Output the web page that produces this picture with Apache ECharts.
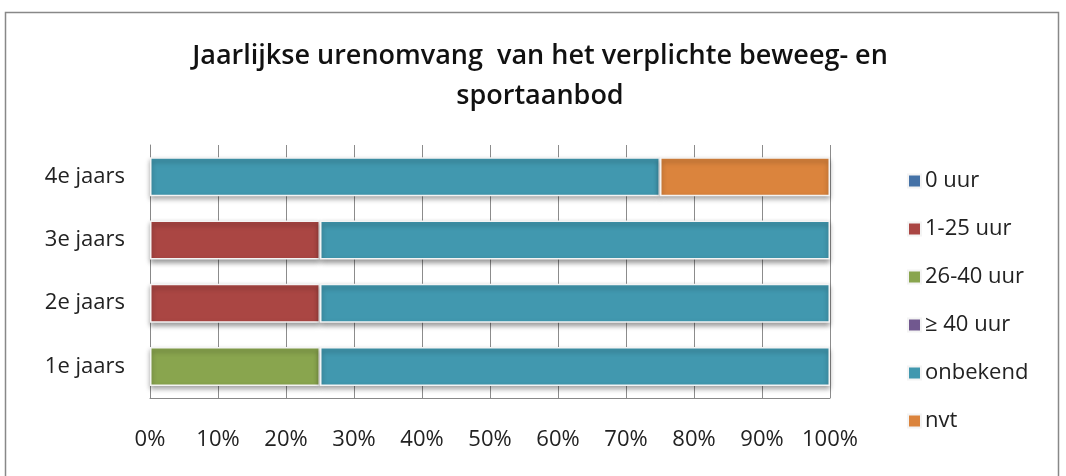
<!DOCTYPE html>
<html>
<head>
<meta charset="utf-8">
<script src="https://cdn.jsdelivr.net/npm/echarts@6/dist/echarts.min.js"></script>
<style>
  html, body { margin: 0; padding: 0; background: #fff; }
  #chart { width: 1066px; height: 476px; }
</style>
</head>
<body>
<div id="chart"></div>
<script>
    // categories bottom to top, like the Excel chart
    var categories = ['1e jaars', '2e jaars', '3e jaars', '4e jaars'];
    var seriesNames = ['0 uur', '1-25 uur', '26-40 uur', '≥ 40 uur', 'onbekend', 'nvt'];
    var colors = ['#4572A7', '#AA4643', '#89A54E', '#71588F', '#4198AF', '#DB843D'];

    // share per category (%)
    var uur0 = [0, 0, 0, 0];
    var uur1_25 = [0, 25, 25, 0];
    var uur26_40 = [25, 0, 0, 0];
    var uur40 = [0, 0, 0, 0];
    var onbekend = [75, 75, 75, 75];
    var nvt = [0, 0, 0, 25];
    var tickLabels = ['0%', '10%', '20%', '30%', '40%', '50%', '60%', '70%', '80%', '90%', '100%'];

    var values = [uur0, uur1_25, uur26_40, uur40, onbekend, nvt];
    var font = 'Open Sans';

    var chartDom = document.getElementById('chart');
    var myChart = echarts.init(chartDom);

    var series = seriesNames.map(function (name, i) {
        return {
            name: name,
            type: 'bar',
            stack: 'total',
            barWidth: 39,
            data: values[i].map(function (v) { return v === 0 ? null : v; }),
            itemStyle: {
                color: colors[i],
                borderColor: '#f4f4f4',
                borderWidth: 1.5,
                shadowColor: 'rgba(0,0,0,0.4)',
                shadowBlur: 5,
                shadowOffsetY: 3
            }
        };
    });

    var option = {
        backgroundColor: '#fff',
        animation: false,
        color: colors,
        title: {
            text: 'Jaarlijkse urenomvang  van het verplichte beweeg- en\nsportaanbod',
            left: 535,
            textAlign: 'center',
            top: 31,
            textStyle: {
                fontFamily: font,
                fontSize: 27,
                fontWeight: 600,
                color: '#111',
                lineHeight: 40
            }
        },
        legend: {
            orient: 'vertical',
            left: 902,
            top: 165,
            itemWidth: 13,
            itemHeight: 13,
            itemGap: 26,
            icon: 'rect',
            data: seriesNames,
            textStyle: {
                fontFamily: font,
                fontSize: 22,
                color: '#222',
                padding: [0, 0, 0, -1]
            }
        },
        grid: {
            left: 150,
            right: 236,
            top: 145,
            bottom: 78
        },
        xAxis: {
            type: 'value',
            min: 0,
            max: 100,
            interval: 10,
            axisLine: { show: true, lineStyle: { color: '#888', width: 1 } },
            axisTick: { show: false },
            splitLine: { show: true, lineStyle: { color: '#8c8c8c', width: 1 } },
            axisLabel: {
                margin: 31,
                fontFamily: font,
                fontSize: 22,
                color: '#222',
                formatter: function (v) { return tickLabels[v / 10]; }
            }
        },
        yAxis: {
            type: 'category',
            data: categories,
            axisLine: { show: true, lineStyle: { color: '#888', width: 1 } },
            axisTick: { show: false },
            axisLabel: {
                margin: 25,
                fontFamily: font,
                fontSize: 22,
                color: '#222'
            }
        },
        graphic: [{
            type: 'rect',
            shape: { x: 5.5, y: 12.5, width: 1053, height: 480 },
            style: { fill: 'none', stroke: '#888', lineWidth: 1.5 },
            silent: true
        }],
        series: series
    };

    option && myChart.setOption(option);
</script>
</body>
</html>
